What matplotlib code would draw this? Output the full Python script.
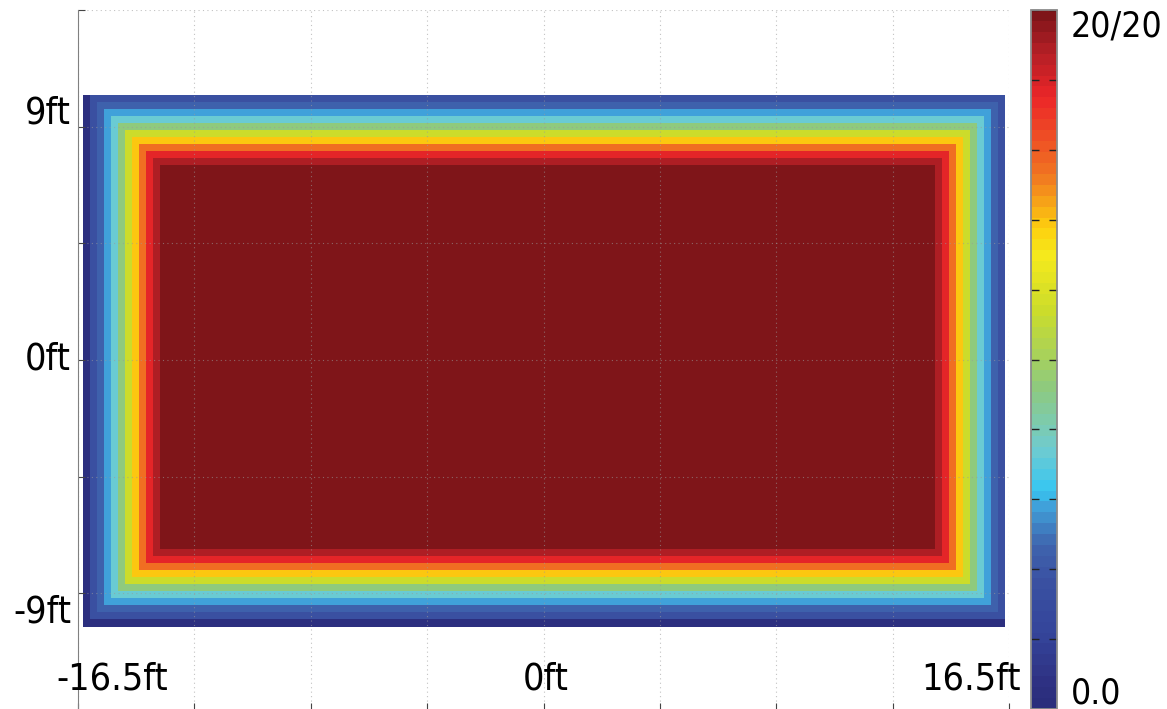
import numpy as np
import matplotlib
matplotlib.use('Agg')
import matplotlib.pyplot as plt
from matplotlib.colors import LinearSegmentedColormap

plt.rcParams['font.family'] = ['Liberation Sans Narrow', 'DejaVu Sans']
plt.rcParams['font.stretch'] = 'condensed'

# band edges of the coverage map (ft)
x_edges = [-16.32, -16.07, -15.82, -15.57, -15.33, -15.08, -14.83, -14.58, -14.33, -14.08, -13.84, -13.59,
           13.88, 14.13, 14.37, 14.62, 14.87, 15.12, 15.37, 15.61, 15.86, 16.11, 16.36]
y_edges = [-10.31, -9.99, -9.72, -9.45, -9.18, -8.91, -8.64, -8.37, -8.10, -7.83, -7.56, -7.29,
           7.52, 7.79, 8.06, 8.34, 8.61, 8.88, 9.15, 9.42, 9.69, 9.96, 10.23]
# which ring each column / row belongs to (0 = outermost)
col_ring = [0, 1, 2, 3, 4, 5, 6, 7, 8, 9, 10, 11, 10, 9, 8, 7, 6, 5, 4, 3, 2, 1]
row_ring = [0, 1, 2, 3, 4, 5, 6, 7, 8, 9, 10, 11, 10, 9, 8, 7, 6, 5, 4, 3, 2, 1]
# value of each ring, outermost -> centre (out of 20)
ring_values = [0.5, 3.6, 4.6, 5.8, 7.4, 9.2, 11.4, 13.8, 15.4, 17.6, 19.0, 20.0]

Z = np.array([[ring_values[min(r, c)] for c in col_ring] for r in row_ring])

x_ticks = [-16.5, -12.375, -8.25, -4.125, 0, 4.125, 8.25, 12.375, 16.5]
y_ticks = [-13.5, -9, -4.5, 0, 4.5, 9, 13.5]
x_labels = {-16.5: '-16.5ft', 0: '0ft', 16.5: '16.5ft'}
y_labels = {9: '9ft', 0: '0ft', -9: '-9ft'}
cbar_ticks = [0, 2, 4, 6, 8, 10, 12, 14, 16, 18, 20]

# colour map sampled from the colour bar
anchors = [(0.00, '#2a2d7c'), (0.03, '#2e3182'), (0.10, '#34449a'), (0.18, '#3a51a2'),
           (0.23, '#3f64ae'), (0.29, '#40a6dd'), (0.31, '#35c6f2'), (0.37, '#6fcbd0'),
           (0.46, '#8fca7d'), (0.57, '#cbdc2b'), (0.65, '#f5e91c'), (0.69, '#fdd10e'),
           (0.77, '#f07322'), (0.88, '#ec2628'), (0.95, '#b01e25'), (1.00, '#7f1519')]
cmap = LinearSegmentedColormap.from_list('cov', anchors, N=64)

fig = plt.figure(figsize=(11.67, 7.09), dpi=100)
ax = fig.add_axes([78/1167, -1/709, 931/1167, 700/709])
cax = fig.add_axes([1031/1167, 0, 26/1167, 699/709])

mesh = ax.pcolormesh(x_edges, y_edges, Z, cmap=cmap, vmin=0, vmax=20,
                     shading='flat', antialiased=False, linewidth=0)

ax.set_xlim(-16.5, 16.5)
ax.set_ylim(-13.5, 13.5)
ax.set_xticks(x_ticks)
ax.set_yticks(y_ticks)
ax.tick_params(direction='in', length=5, color='#444444', labelleft=False, labelbottom=False)
ax.grid(True, linestyle=(0, (1, 3)), color='#9a9a9a', linewidth=0.8, alpha=0.6)
ax.spines['top'].set_visible(False)
ax.spines['right'].set_visible(False)
ax.spines['left'].set_color('#808080')
ax.spines['bottom'].set_color('#808080')

fs = 27
x_off = {-16.5: 34, 0: 2, 16.5: -38}
for v, s in x_labels.items():
    ax.annotate(s, xy=(v, 0), xycoords=('data', 'axes fraction'), xytext=(x_off[v], 30),
                textcoords='offset pixels', ha='center', va='center', fontsize=fs)
y_off = {9: 13, 0: 0, -9: -19}
for v, s in y_labels.items():
    ax.annotate(s, xy=(0, v), xycoords=('axes fraction', 'data'), xytext=(-7, y_off[v]),
                textcoords='offset pixels', ha='right', va='center', fontsize=fs)

cb = fig.colorbar(mesh, cax=cax, ticks=cbar_ticks)
cb.outline.set_edgecolor('#8c8c8c')
cb.outline.set_linewidth(1.3)
cax.tick_params(direction='in', length=6, width=1, color='#222222',
                left=True, right=True, labelleft=False, labelright=False)
cax.annotate('20/20', xy=(1, 1), xycoords='axes fraction', xytext=(14, 0),
             textcoords='offset pixels', ha='left', va='top', fontsize=25.5)
cax.annotate('0.0', xy=(1, 0), xycoords='axes fraction', xytext=(14, -1),
             textcoords='offset pixels', ha='left', va='bottom', fontsize=25.5)

fig.savefig('out.png', dpi=100)
